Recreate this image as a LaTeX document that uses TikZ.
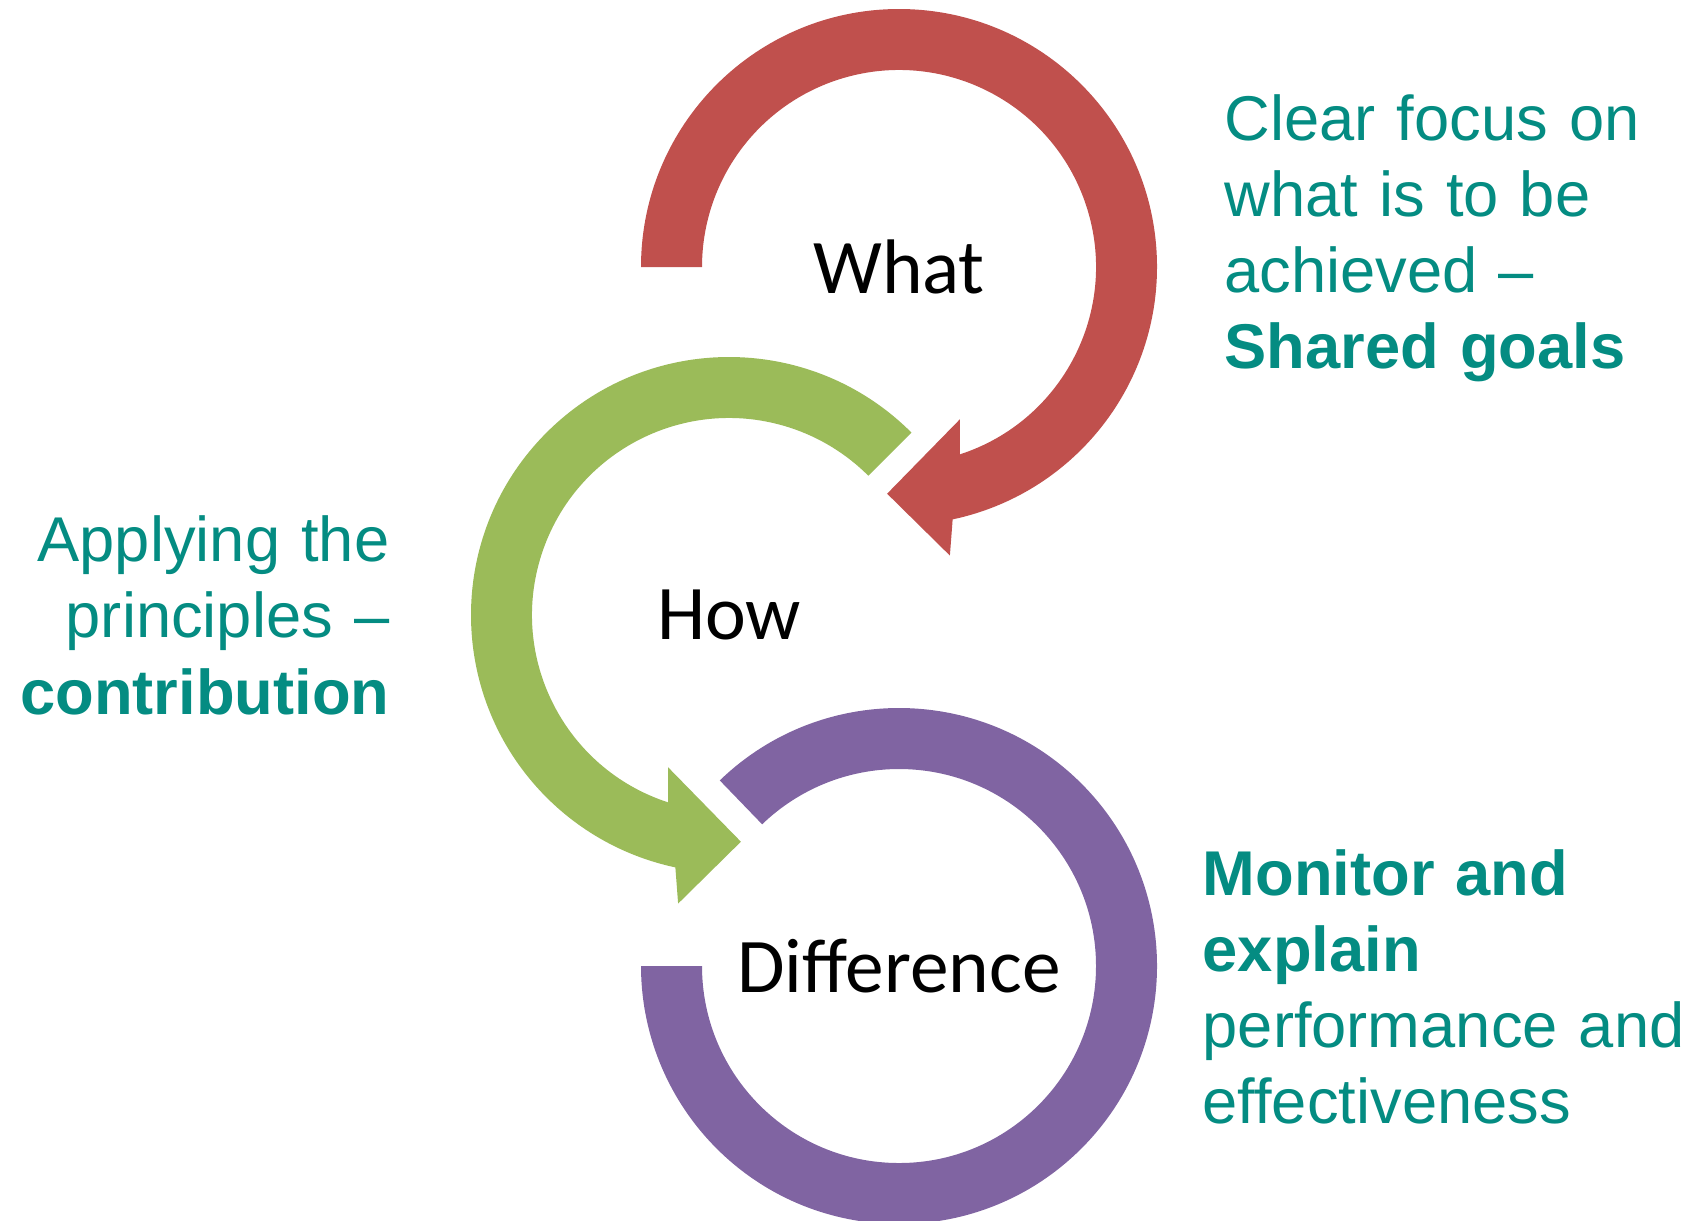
\documentclass[tikz,border=0pt]{standalone}
\usepackage{xcolor}
\usepackage{fontspec}
\setmainfont{Liberation Sans}
\newfontfamily\calibri{Carlito}
\usepackage{tikz}
\usetikzlibrary{calc}
\usetikzlibrary{positioning}
\definecolor{ringred}{HTML}{C0504D}
\definecolor{ringgreen}{HTML}{9BBB59}
\definecolor{ringpurple}{HTML}{8064A2}
\definecolor{noteteal}{RGB}{4,140,130}
\tikzstyle{word} = [inner sep=0, text=black, font=\calibri\fontsize{22}{26}\selectfont]
\tikzstyle{note} = [inner sep=0, text=noteteal, text width=5cm, font=\fontsize{18}{21.7}\selectfont]

\begin{document}
\begin{tikzpicture}
\useasboundingbox (0,0) rectangle (16.98,-12.20);
\coordinate (cWhat) at (8.99,-2.67);
\coordinate (cHow) at (7.29,-6.15);
\coordinate (cDiff) at (8.99,-9.66);
\fill [ringred, shift={(cWhat)}] (180:2.58) arc [start angle=180, end angle=-78, radius=2.58] -- (-80:2.93) -- (-93:2.27) -- (-68.2:1.64) -- (-72:1.97) arc [start angle=-72, end angle=180, radius=1.97] -- cycle;
\fill [ringgreen, shift={(cHow)}] (45:2.58) arc [start angle=45, end angle=258, radius=2.58] -- (260:2.93) -- (273:2.27) -- (248.2:1.64) -- (252:1.97) arc [start angle=252, end angle=45, radius=1.97] -- cycle;
\fill [ringpurple, shift={(cDiff)}] (134:2.58) arc [start angle=134, end angle=-180, radius=2.58] -- (-180:1.97) arc [start angle=-180, end angle=134, radius=1.97] -- cycle;
\node [word] (what) at (cWhat) {What};
\node [word] (how) at (cHow) {How};
\node [word] (diff) at (cDiff) {Difference};
\node [note, anchor=base west, align=left] (goals) at (12.24,-1.40) {Clear focus on\\what is to be\\achieved --\\\textbf{Shared goals}};
\node [note, text width=4cm, anchor=base east, align=right] (contrib) at (3.90,-5.617) {Applying the\\principles --\\\textbf{contribution}};
\node [note, anchor=base west, align=left] (monitor) at (12.02,-8.95) {\textbf{Monitor and}\\\textbf{explain}\\performance and\\effectiveness};
\end{tikzpicture}
\end{document}
